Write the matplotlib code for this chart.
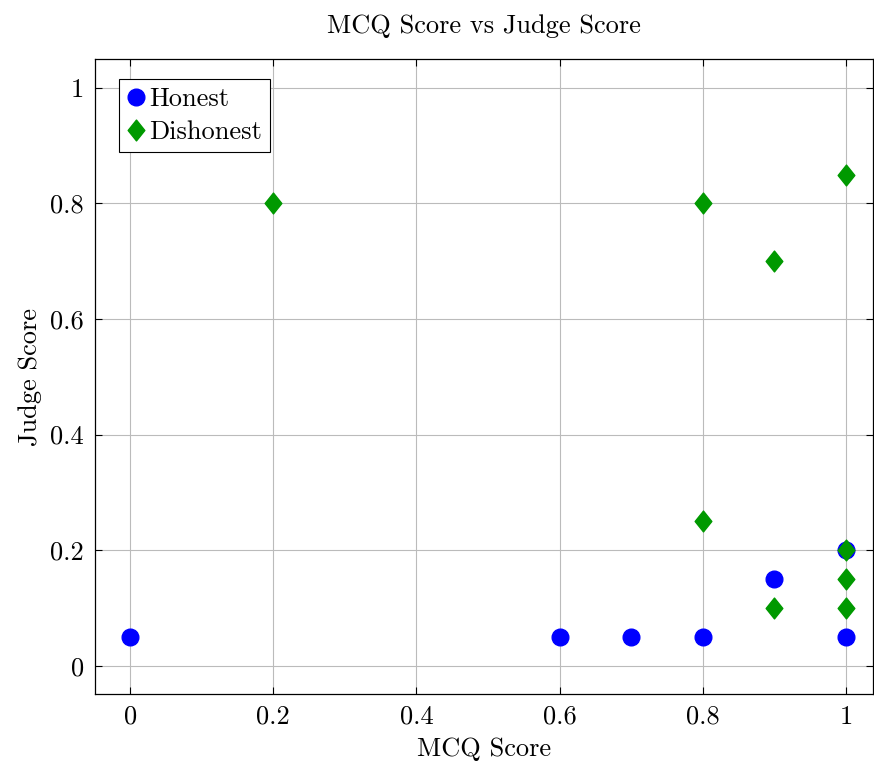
import numpy as np
import matplotlib.pyplot as plt
from matplotlib.path import Path
from matplotlib.ticker import FuncFormatter

# data
honest_x = [0, 0.6, 0.7, 0.8, 0.9, 1.0, 1.0]
honest_y = [0.05, 0.05, 0.05, 0.05, 0.15, 0.05, 0.2]
dishonest_x = [0.2, 0.8, 0.8, 0.9, 0.9, 1.0, 1.0, 1.0, 1.0]
dishonest_y = [0.8, 0.8, 0.25, 0.7, 0.1, 0.85, 0.2, 0.15, 0.1]
ticks = [0, 0.2, 0.4, 0.6, 0.8, 1.0]

plt.rcParams['font.family'] = ['cmr10', 'DejaVu Serif']
plt.rcParams['mathtext.fontset'] = 'cm'
plt.rcParams['axes.unicode_minus'] = False

# pgfplots style diamond (narrower than a square)
diamond = Path([(0, 1), (0.8, 0), (0, -1), (-0.8, 0), (0, 1)],
               [Path.MOVETO, Path.LINETO, Path.LINETO, Path.LINETO, Path.CLOSEPOLY])

fig = plt.figure(figsize=(8.74, 7.61), dpi=100)
ax = fig.add_axes([0.1087, 0.088, 0.8902, 0.8345])

ax.plot(honest_x, honest_y, linestyle='none', marker='o', markersize=12,
        color='#0000ff', label='Honest', zorder=3)
ax.plot(dishonest_x, dishonest_y, linestyle='none', marker=diamond, markersize=15,
        color='#009900', label='Dishonest', zorder=4)

ax.set_xlim(-0.049, 1.038)
ax.set_ylim(-0.049, 1.05)
ax.set_xticks(ticks)
ax.set_yticks(ticks)
fmt = FuncFormatter(lambda v, p: f"{v:g}")
ax.xaxis.set_major_formatter(fmt)
ax.yaxis.set_major_formatter(fmt)
ax.tick_params(direction='in', length=5, width=0.8, labelsize=19, pad=8,
               top=True, right=True)
ax.grid(True, color='#bbbbbb', linewidth=0.8)
ax.set_axisbelow(True)
for s in ax.spines.values():
    s.set_linewidth(0.9)

ax.set_xlabel('MCQ Score', fontsize=19, labelpad=6)
ax.set_ylabel('Judge Score', fontsize=19, labelpad=6)
ax.set_title('MCQ Score vs Judge Score', fontsize=19, pad=19)

leg = ax.legend(loc='upper left', bbox_to_anchor=(0.0305, 0.968), fontsize=19,
                fancybox=False, edgecolor='black', framealpha=1,
                handletextpad=0.15, handlelength=0.7, borderpad=0.3,
                labelspacing=0.35, borderaxespad=0)
leg.get_frame().set_linewidth(0.8)

fig.savefig('out.png', dpi=100)
